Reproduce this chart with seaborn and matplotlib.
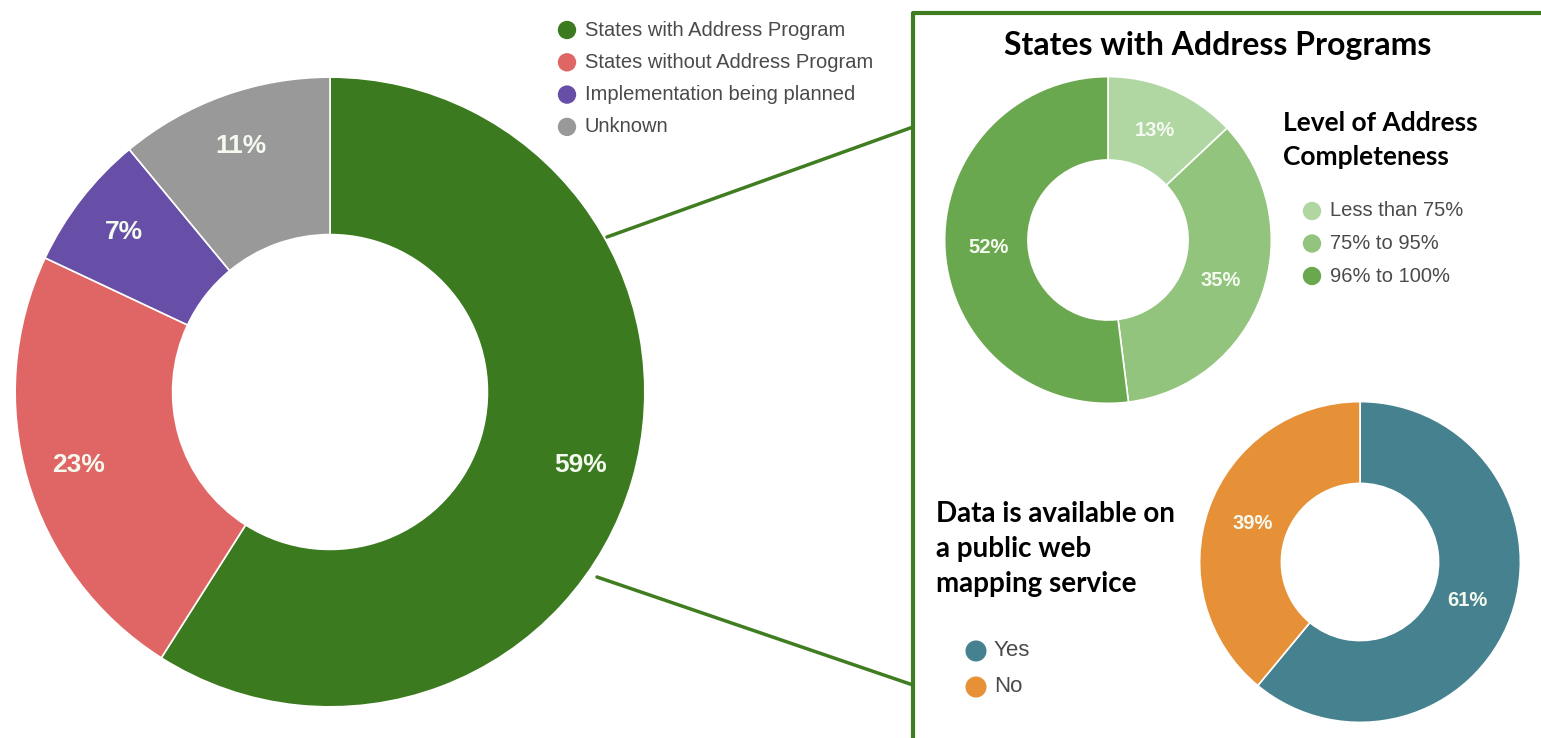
import matplotlib
matplotlib.use("Agg")
import matplotlib.pyplot as plt
import seaborn as sns

sns.set_style("white")
plt.rcParams['font.family'] = ['Liberation Sans', 'DejaVu Sans']

W, H = 1541, 738

# Data
main_labels = ["States with Address Program", "States without Address Program",
               "Implementation being planned", "Unknown"]
main_values = [59, 23, 7, 11]
main_colors = ["#3b7a1e", "#e06666", "#674ea7", "#999999"]

complete_labels = ["Less than 75%", "75% to 95%", "96% to 100%"]
complete_values = [13, 35, 52]
complete_colors = ["#b0d6a2", "#93c47d", "#6aa84f"]

web_labels = ["Yes", "No"]
web_values = [61, 39]
web_colors = ["#45818e", "#e69138"]

box_color = "#3f7d20"
title_font = ['Lato', 'DejaVu Sans']

fig = plt.figure(figsize=(W / 100, H / 100), dpi=100)


def donut(cx, cy, R, values, colors, hole, pctdist, fs):
    ax = fig.add_axes([(cx - R) / W, 1 - (cy + R) / H, 2 * R / W, 2 * R / H])
    ax.pie(values, colors=colors, startangle=90, counterclock=False, radius=1,
           autopct=lambda p: f"{p:.0f}%", pctdistance=pctdist,
           wedgeprops=dict(width=1 - hole, edgecolor="white", linewidth=1.2),
           textprops=dict(color="#f4faf0", fontsize=fs, fontweight="bold"))
    ax.set_xlim(-1.01, 1.01)
    ax.set_ylim(-1.01, 1.01)
    ax.set_aspect("equal")
    ax.axis("off")
    return ax


donut(330, 392, 318, main_values, main_colors, 0.5, 0.83, 19)
donut(1108, 240, 165, complete_values, complete_colors, 0.49, 0.73, 14.5)
donut(1360, 562, 162, web_values, web_colors, 0.49, 0.71, 14.5)

# overlay in pixel coordinates for box, connectors and legends
ov = fig.add_axes([0, 0, 1, 1], zorder=5)
ov.set_xlim(0, W)
ov.set_ylim(H, 0)
ov.axis("off")
ov.patch.set_alpha(0)

ov.plot([913, 913, W + 5], [H + 5, 13, 13], color=box_color, lw=3, solid_capstyle="butt")
ov.plot([607, 913], [237, 127], color=box_color, lw=2.5)
ov.plot([597, 913], [577, 685], color=box_color, lw=2.5)


def legend(x, y0, dy, labels, colors, fs, ms):
    for i, (lab, col) in enumerate(zip(labels, colors)):
        y = y0 + i * dy
        ov.scatter([x], [y], s=ms, color=col, edgecolor="none")
        ov.text(x + 18, y, lab, fontsize=fs, color="#4a4a4a", va="center", ha="left")


legend(567, 30, 32.3, main_labels, main_colors, 14.5, 175)
legend(1312, 211, 32.5, complete_labels, complete_colors, 14.5, 175)
legend(976, 651, 36, web_labels, web_colors, 16, 230)

ov.text(1218, 45, "States with Address Programs", fontsize=23, fontweight="bold",
        ha="center", va="center", family=title_font, color="black")
ov.text(1283, 140, "Level of Address\nCompleteness", fontsize=19, fontweight="bold",
        ha="left", va="center", family=title_font, linespacing=1.46, color="black")
ov.text(936, 549, "Data is available on\na public web\nmapping service", fontsize=20,
        fontweight="bold", ha="left", va="center", family=title_font, linespacing=1.43,
        color="black")

fig.savefig("out.png", dpi=100)
